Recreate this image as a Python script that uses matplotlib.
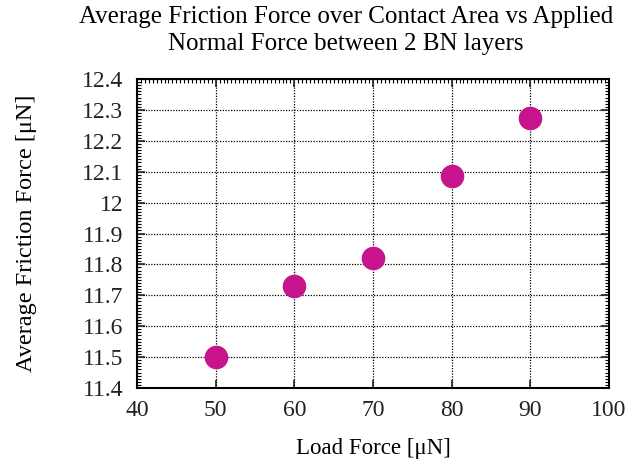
import numpy as np
import matplotlib
matplotlib.use("Agg")
import matplotlib.pyplot as plt
from matplotlib.ticker import MultipleLocator

# load force [uN] and the averaged friction force [uN]
load_force = [50, 60, 70, 80, 90]
friction_force = [11.50, 11.73, 11.82, 12.085, 12.275]

x_ticks = [40, 50, 60, 70, 80, 90, 100]
y_ticks = [11.4, 11.5, 11.6, 11.7, 11.8, 11.9, 12.0, 12.1, 12.2, 12.3, 12.4]
y_tick_labels = ["11.4", "11.5", "11.6", "11.7", "11.8", "11.9", "12",
                 "12.1", "12.2", "12.3", "12.4"]

plt.rcParams['font.family'] = ['Liberation Serif', 'DejaVu Serif']

fig = plt.figure(figsize=(6.42, 4.67), dpi=100)
ax = fig.add_axes([0.2134, 0.1692, 0.7352, 0.6616])

ax.plot(load_force, friction_force, 'o', color='#c8148c', markersize=17,
        markeredgewidth=0, zorder=3)

ax.set_xlim(40, 100)
ax.set_ylim(11.4, 12.4)
ax.set_xticks(x_ticks)
ax.set_yticks(y_ticks)
ax.set_yticklabels(y_tick_labels)
ax.xaxis.set_minor_locator(MultipleLocator(0.5))
ax.yaxis.set_minor_locator(MultipleLocator(0.01))

ax.grid(True, which='major', color='black', linestyle=(0, (1, 1.2)), linewidth=0.9)

ax.tick_params(which='major', direction='in', length=6, width=1.2,
               top=True, right=True, labelsize=17, pad=9, colors='#222222')
ax.tick_params(axis='y', which='major', pad=10)
ax.tick_params(which='minor', direction='in', length=3, width=0.8,
               bottom=False, top=True, left=True, right=True)
for s in ax.spines.values():
    s.set_linewidth(1.5)

ax.set_xlabel("Load Force [μN]", fontsize=16.5, labelpad=12)
ax.set_ylabel("Average Friction Force [μN]", fontsize=17.5, labelpad=32)
ax.set_title("Average Friction Force over Contact Area vs Applied\n"
             "Normal Force between 2 BN layers", fontsize=18, pad=21,
             linespacing=1.3, x=0.443)

fig.savefig("out.png", dpi=100)
